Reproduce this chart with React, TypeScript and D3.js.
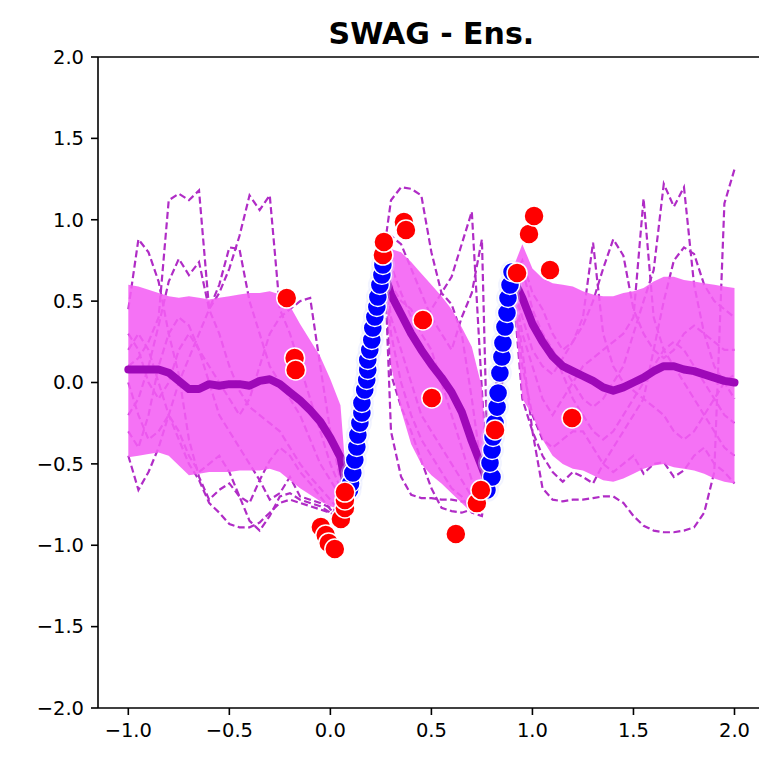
import React from 'react';
import * as d3 from 'd3';

// Evaluation grid: left test region, first training strip, middle test region,
// second training strip, right test region.
const xGrid = [
  -1.0, -0.95, -0.9, -0.85, -0.8, -0.75, -0.7, -0.65, -0.6, -0.55, -0.5, -0.45, -0.4, -0.35, -0.3, -0.25, -0.2, -0.15, -0.1, -0.05, 0.0, 0.05,
  0.08, 0.12, 0.16, 0.2, 0.24, 0.27,
  0.3, 0.35, 0.4, 0.45, 0.5, 0.55, 0.6, 0.65, 0.7, 0.75,
  0.78, 0.81, 0.84, 0.87, 0.9,
  0.95, 1.0, 1.05, 1.1, 1.15, 1.2, 1.25, 1.3, 1.35, 1.4, 1.45, 1.5, 1.55, 1.6, 1.65, 1.7, 1.75, 1.8, 1.85, 1.9, 1.95, 2.0,
];

// Ensemble predictive mean
const meanY = [
  0.08, 0.08, 0.08, 0.08, 0.06, 0.01, -0.04, -0.04, -0.01, -0.02, -0.01, -0.01, -0.02, 0.01, 0.02, -0.01, -0.06, -0.11, -0.17, -0.24, -0.34, -0.46,
  -0.66, -0.48, -0.14, 0.2, 0.53, 0.66,
  0.54, 0.42, 0.3, 0.2, 0.11, 0.03, -0.06, -0.18, -0.36, -0.52,
  -0.62, -0.33, 0.05, 0.4, 0.65,
  0.52, 0.36, 0.25, 0.16, 0.1, 0.07, 0.04, 0.01, -0.03, -0.05, -0.03, 0.0, 0.03, 0.07, 0.1, 0.1, 0.08, 0.07, 0.05, 0.03, 0.01, 0.0,
];

// Upper / lower edge of the uncertainty band
const upperY = [
  0.6, 0.59, 0.57, 0.55, 0.53, 0.52, 0.53, 0.52, 0.51, 0.52, 0.53, 0.54, 0.55, 0.55, 0.56, 0.54, 0.47, 0.36, 0.26, 0.16, 0.02, -0.14,
  -0.62, -0.44, -0.1, 0.24, 0.57, 0.74,
  0.82, 0.8, 0.74, 0.67, 0.6, 0.53, 0.45, 0.34, 0.22, -0.03,
  -0.58, -0.29, 0.09, 0.44, 0.69,
  0.85, 0.7, 0.64, 0.61, 0.6, 0.59, 0.56, 0.54, 0.53, 0.53, 0.55, 0.56, 0.58, 0.62, 0.65, 0.65, 0.63, 0.62, 0.61, 0.6, 0.59, 0.58,
];
const lowerY = [
  -0.46, -0.45, -0.44, -0.43, -0.45, -0.51, -0.57, -0.56, -0.55, -0.55, -0.55, -0.54, -0.54, -0.54, -0.53, -0.55, -0.6, -0.65, -0.69, -0.73, -0.76, -0.78,
  -0.72, -0.52, -0.18, 0.16, 0.49, 0.62,
  0.1, -0.17, -0.38, -0.5, -0.57, -0.62, -0.68, -0.74, -0.8, -0.78,
  -0.66, -0.37, 0.01, 0.36, 0.61,
  -0.1, -0.2, -0.35, -0.45, -0.5, -0.53, -0.54, -0.57, -0.6, -0.61, -0.59, -0.56, -0.53, -0.51, -0.5, -0.52, -0.53, -0.54, -0.56, -0.59, -0.61, -0.62,
];

// Individual ensemble member predictions
const member1 = [
  0.45, 0.88, 0.8, 0.62, 0.3, 0.05, -0.35, -0.58, -0.72, -0.66, -0.62, -0.7, -0.74, -0.6, -0.48, -0.4, -0.45, -0.55, -0.62, -0.7, -0.78, -0.82,
  -0.72, -0.46, -0.12, 0.22, 0.55, 0.85,
  1.12, 1.2, 1.19, 1.15, 0.8, 0.55, 0.48, 0.3, -0.1, -0.55,
  -0.6, -0.3, 0.06, 0.42, 0.66,
  0.7, 0.45, 0.3, 0.2, 0.05, -0.1, -0.2, -0.3, -0.35, -0.3, -0.2, -0.1, 0.0, 0.1, 0.2, 0.25, 0.2, 0.1, 0.0, -0.1, -0.2, -0.25,
];
const member2 = [
  0.1, 0.15, 0.25, 0.4, 1.12, 1.16, 1.12, 1.18, 0.45, 0.3, 0.1, -0.05, -0.15, -0.2, -0.25, -0.3, -0.4, -0.5, -0.58, -0.65, -0.72, -0.8,
  -0.68, -0.5, -0.16, 0.18, 0.5, 0.68,
  -0.3, -0.58, -0.69, -0.71, -0.71, -0.72, -0.72, -0.73, -0.74, -0.66,
  -0.62, -0.34, 0.02, 0.38, 0.62,
  0.4, 0.2, 0.1, 0.05, 0.15, 0.25, 0.4, 0.86, 0.3, 0.1, 0.0, -0.05, -0.1, -0.15, -0.2, -0.3, -0.35, -0.3, -0.2, -0.1, 0.0, 0.05,
];
const member3 = [
  -0.2, -0.1, 0.1, 0.35, 0.62, 0.76, 0.66, 0.74, 0.45, 0.6, 0.83, 0.82, 0.5, 0.3, 0.1, 0.0, -0.1, -0.2, -0.35, -0.5, -0.6, -0.7,
  -0.74, -0.44, -0.1, 0.24, 0.56, 0.72,
  0.6, 0.5, 0.45, 0.3, 0.2, 0.0, -0.2, -0.4, -0.6, -0.7,
  -0.58, -0.32, 0.04, 0.4, 0.64,
  0.75, 0.55, 0.45, 0.3, 0.2, 0.25, 0.35, 0.5, 0.7, 0.88, 0.78, 0.45, 0.3, 0.2, 0.15, 0.2, 0.3, 0.35, 0.3, 0.25, 0.2, 0.2,
];
const member4 = [
  -0.45, -0.66, -0.55, -0.4, -0.2, 0.0, 0.15, 0.3, 0.45, 0.55, 0.7, 0.9, 1.15, 1.06, 1.15, 0.45, 0.3, 0.1, -0.1, -0.3, -0.5, -0.65,
  -0.7, -0.47, -0.13, 0.21, 0.52, 0.7,
  0.72, 0.55, 0.4, 0.35, 0.45, 0.55, 0.65, 0.85, 1.05, -0.05,
  -0.64, -0.31, 0.07, 0.41, 0.65,
  0.3, 0.1, -0.1, -0.2, -0.1, 0.0, 0.1, 0.15, 0.2, 0.25, 0.3, 0.4, 1.13, 0.4, 0.2, 0.1, 0.0, -0.1, -0.2, -0.3, -0.4, -0.45,
];
const member5 = [
  0.2, 0.3, 0.2, 0.0, -0.2, -0.35, -0.5, -0.6, -0.74, -0.8, -0.87, -0.89, -0.89, -0.86, -0.8, -0.74, -0.72, -0.74, -0.76, -0.78, -0.8, -0.84,
  -0.76, -0.5, -0.15, 0.19, 0.51, 0.67,
  0.05, -0.15, -0.3, -0.48, -0.65, -0.77, -0.79, -0.8, -0.78, -0.72,
  -0.61, -0.35, 0.03, 0.39, 0.63,
  0.2, -0.3, -0.65, -0.72, -0.73, -0.72, -0.72, -0.71, -0.7, -0.7, -0.74, -0.82, -0.88, -0.91, -0.92, -0.92, -0.91, -0.89, -0.8, -0.55, 1.1, 1.31,
];
const member6 = [
  0.0, -0.2, -0.35, -0.3, -0.2, -0.3, -0.45, -0.55, -0.5, -0.45, -0.55, -0.7, -0.85, -0.91, -0.82, -0.7, -0.68, -0.72, -0.74, -0.76, -0.8, -0.78,
  -0.69, -0.45, -0.11, 0.23, 0.54, 0.74,
  0.9, 0.85, 0.7, 0.55, 0.4, 0.3, 0.2, 0.4, 0.55, 0.88,
  -0.59, -0.33, 0.05, 0.41, 0.66,
  0.55, 0.4, 0.3, 0.2, 0.1, 0.0, -0.1, -0.15, -0.1, 0.0, 0.1, 0.3, 0.5, 0.69, 1.22, 1.08, 1.2, 0.6, 0.3, 0.1, 0.0, -0.1,
];
const member7 = [
  0.3, 0.2, 0.0, -0.1, 0.0, 0.2, 0.3, 0.2, 0.1, 0.0, -0.1, -0.2, -0.1, 0.1, 0.3, 0.4, 0.45, 0.5, 0.52, 0.1, -0.3, -0.6,
  -0.71, -0.49, -0.15, 0.2, 0.53, 0.71,
  0.4, 0.2, 0.0, -0.2, -0.3, -0.4, -0.5, -0.6, -0.7, -0.75,
  -0.63, -0.32, 0.06, 0.4, 0.64,
  -0.1, -0.3, -0.45, -0.55, -0.61, -0.55, -0.58, -0.62, -0.5, -0.4, -0.3, -0.2, -0.1, 0.2, 0.5, 0.75, 0.83, 0.79, 0.6, 0.5, 0.45, 0.4,
];
const member8 = [
  -0.3, -0.4, -0.2, 0.1, 0.3, 0.4, 0.35, 0.2, 0.0, -0.2, -0.3, -0.4, -0.5, -0.6, -0.72, -0.68, -0.58, -0.7, -0.72, -0.74, -0.77, -0.8,
  -0.73, -0.47, -0.13, 0.21, 0.52, 0.69,
  0.3, 0.0, -0.2, -0.35, -0.45, -0.55, -0.65, -0.7, -0.8, -0.82,
  -0.62, -0.34, 0.04, 0.39, 0.63,
  0.1, -0.2, -0.35, -0.4, -0.35, -0.3, -0.3, -0.4, -0.5, -0.55, -0.5, -0.45, -0.56, -0.5, -0.49, -0.58, -0.54, -0.45, -0.4, -0.5, -0.55, -0.62,
];
const members = [member1, member2, member3, member4, member5, member6, member7, member8];

// Training observations
const trainX = [
  0.095, 0.1, 0.111, 0.121, 0.131, 0.136, 0.146, 0.156, 0.156, 0.17, 0.18, 0.185, 0.185, 0.195, 0.205, 0.21, 0.22, 0.23, 0.235, 0.245, 0.255, 0.26,
  0.775, 0.8, 0.79, 0.8, 0.805, 0.815, 0.825, 0.83, 0.839, 0.849, 0.854, 0.864, 0.874, 0.879, 0.889, 0.899,
];
const trainY = [
  -0.66, -0.62, -0.556, -0.476, -0.396, -0.323, -0.249, -0.187, -0.126, -0.046, 0.015, 0.077, 0.138, 0.2, 0.261, 0.335, 0.402, 0.464, 0.525, 0.599, 0.661, 0.722,
  -0.66, -0.581, -0.495, -0.415, -0.335, -0.249, -0.151, -0.065, 0.058, 0.157, 0.243, 0.341, 0.427, 0.519, 0.599, 0.679,
];

// Held-out observations
const testX = [
  -0.216, -0.177, -0.172, -0.047, -0.023, -0.008, 0.022, 0.052, 0.072, 0.072, 0.072, 0.26, 0.265, 0.364, 0.374, 0.458, 0.502, 0.621, 0.725, 0.745, 0.815, 0.924, 0.983, 1.008, 1.087, 1.196,
];
const testY = [
  0.519, 0.151, 0.077, -0.888, -0.937, -0.986, -1.023, -0.839, -0.771, -0.722, -0.673, 0.783, 0.863, 0.986, 0.937, 0.384, -0.095, -0.931, -0.741, -0.661, -0.292, 0.673, 0.912, 1.023, 0.691, -0.218,
];

const xTicks = [-1.0, -0.5, 0.0, 0.5, 1.0, 1.5, 2.0];
const yTicks = [-2.0, -1.5, -1.0, -0.5, 0.0, 0.5, 1.0, 1.5, 2.0];
const title = 'SWAG - Ens.';

const fmt = (v: number) => {
  const s = Math.abs(v).toFixed(1);
  return v < 0 ? '\u2212' + s : s;
};

export default function App() {
  const W = 759;
  const H = 767;
  const left = 98;
  const right = 764.8;
  const top = 57;
  const bottom = 708;

  const x = d3.scaleLinear().domain([-1.15, 2.15]).range([left, right]);
  const y = d3.scaleLinear().domain([-2, 2]).range([bottom, top]);

  const line = d3
    .line<number>()
    .x((_, i) => x(xGrid[i]))
    .y((d) => y(d));
  const band = d3
    .area<number>()
    .x((_, i) => x(xGrid[i]))
    .y0((_, i) => y(lowerY[i]))
    .y1((d) => y(d));

  const font = 'DejaVu Sans, sans-serif';
  const tickLen = 7;

  return (
    <svg
      width={W}
      height={H}
      style={{ position: 'absolute', left: 0, top: 0, background: '#fff' }}
    >
      <defs>
        <clipPath id="plot-area">
          <rect x={left} y={top} width={right - left} height={bottom - top} />
        </clipPath>
      </defs>
      <rect x={0} y={0} width={W} height={H} fill="#fff" />

      <g clipPath="url(#plot-area)">
        {members.map((m, k) => (
          <path
            key={k}
            d={line(m) || ''}
            fill="none"
            stroke="#b02cc6"
            strokeWidth={2.2}
            strokeDasharray="7,3.5"
          />
        ))}
        <path d={band(upperY) || ''} fill="#f45ff4" fillOpacity={0.88} stroke="none" />
        <path
          d={line(meanY) || ''}
          fill="none"
          stroke="#9e08b8"
          strokeWidth={8}
          strokeLinejoin="round"
          strokeLinecap="round"
        />
        {trainX.map((v, i) => (
          <circle
            key={'halo' + i}
            cx={x(v)}
            cy={y(trainY[i])}
            r={12}
            fill="#d4d9ff"
            fillOpacity={0.3}
          />
        ))}
        {trainX.map((v, i) => (
          <circle
            key={'tr' + i}
            cx={x(v)}
            cy={y(trainY[i])}
            r={9.5}
            fill="#0000ff"
            stroke="#ffffff"
            strokeWidth={1.4}
          />
        ))}
        {testX.map((v, i) => (
          <circle
            key={'te' + i}
            cx={x(v)}
            cy={y(testY[i])}
            r={10}
            fill="#ff0000"
            stroke="#ffffff"
            strokeWidth={1.5}
          />
        ))}
      </g>

      {/* spines */}
      <line x1={left} x2={left} y1={top} y2={bottom} stroke="#000" strokeWidth={1.6} />
      <line x1={left} x2={W} y1={bottom} y2={bottom} stroke="#000" strokeWidth={1.6} />
      <line x1={left} x2={W} y1={top} y2={top} stroke="#000" strokeWidth={1.6} />

      {/* x axis */}
      {xTicks.map((t) => (
        <g key={'xt' + t}>
          <line x1={x(t)} x2={x(t)} y1={bottom} y2={bottom + tickLen} stroke="#000" strokeWidth={1.6} />
          <text
            x={x(t)}
            y={bottom + tickLen + 22}
            textAnchor="middle"
            fontFamily={font}
            fontSize={19.5}
            fill="#000"
          >
            {fmt(t)}
          </text>
        </g>
      ))}

      {/* y axis */}
      {yTicks.map((t) => (
        <g key={'yt' + t}>
          <line x1={left - tickLen} x2={left} y1={y(t)} y2={y(t)} stroke="#000" strokeWidth={1.6} />
          <text
            x={left - tickLen - 7}
            y={y(t)}
            dy="0.35em"
            textAnchor="end"
            fontFamily={font}
            fontSize={19.5}
            fill="#000"
          >
            {fmt(t)}
          </text>
        </g>
      ))}

      <text
        x={(left + right) / 2}
        y={44}
        textAnchor="middle"
        fontFamily={font}
        fontWeight="bold"
        fontSize={30}
        fill="#000"
      >
        {title}
      </text>
    </svg>
  );
}
